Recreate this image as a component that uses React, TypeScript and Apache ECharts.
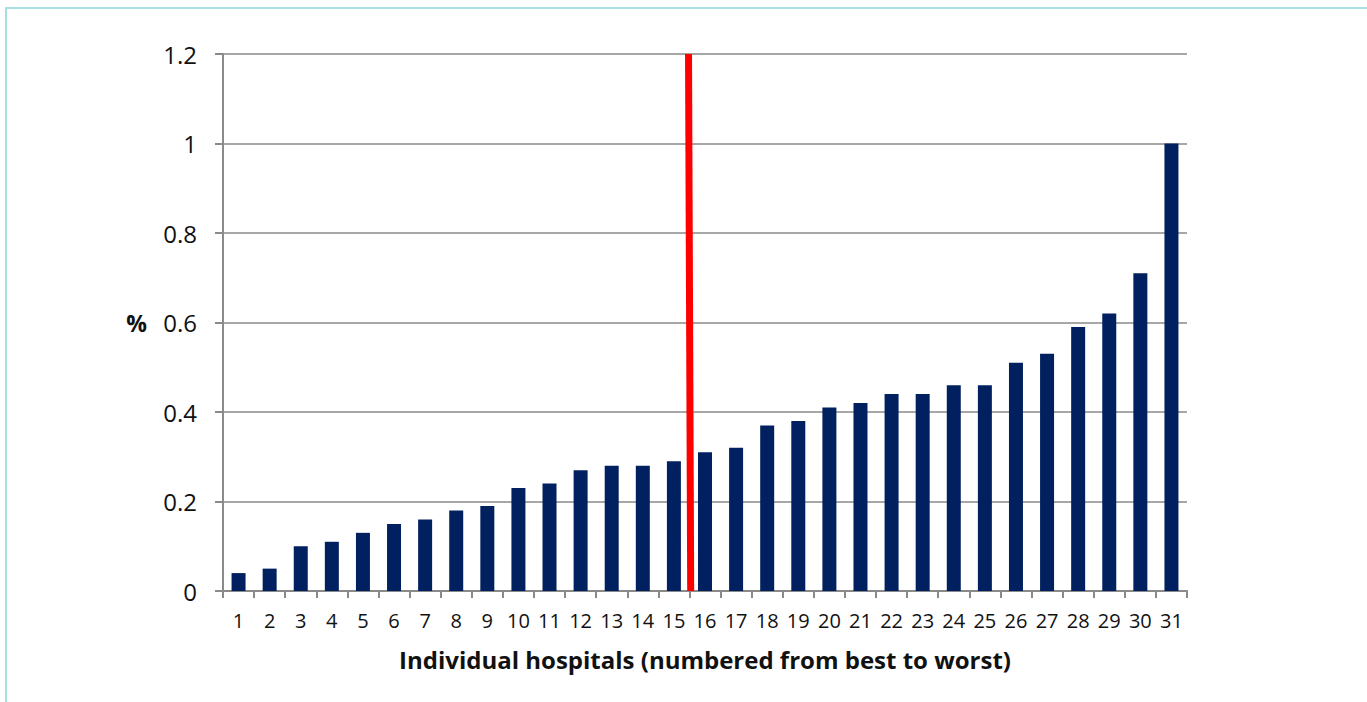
import React, { useEffect, useRef } from "react";
import * as echarts from "echarts";

const hospitals = Array.from({ length: 31 }, (_, i) => String(i + 1));
const rates = [
  0.04, 0.05, 0.1, 0.11, 0.13, 0.15, 0.16, 0.18, 0.19, 0.23, 0.24, 0.27, 0.28, 0.28, 0.29,
  0.31, 0.32, 0.37, 0.38, 0.41, 0.42, 0.44, 0.44, 0.46, 0.46, 0.51, 0.53, 0.59, 0.62, 0.71, 1.0,
];
// median divider line (position on a 0..31 scale, value)
const medianLine = [
  [14.97, 1.2],
  [15.04, 0],
];
const yTicks = { min: 0, max: 1.2, interval: 0.2 };

const FONT = "'Open Sans', Lato, sans-serif";
const GRAY = "#8a8a8a";

export default function App() {
  const ref = useRef<HTMLDivElement>(null);
  useEffect(() => {
    if (!ref.current) return;
    const chart = echarts.init(ref.current, null, { renderer: "svg" });
    chart.setOption({
      animation: false,
      backgroundColor: "#ffffff",
      grid: { left: 223, right: 180, top: 54, bottom: 111, containLabel: false },
      graphic: [
        {
          type: "polyline",
          shape: { points: [[6, 702], [6, 8], [1367, 8]] },
          style: { stroke: "#a6dfe0", lineWidth: 2, fill: "none" },
          silent: true,
        },
      ],
      xAxis: [
        {
          type: "category",
          data: hospitals,
          boundaryGap: true,
          axisLine: { show: true, lineStyle: { color: GRAY, width: 2 } },
          axisTick: { show: true, length: 7, alignWithLabel: false, lineStyle: { color: GRAY, width: 2 } },
          axisLabel: { color: "#111", fontFamily: FONT, fontSize: 20, margin: 19 },
          name: "Individual hospitals (numbered from best to worst)",
          nameLocation: "middle",
          nameGap: 56,
          nameTextStyle: { color: "#111", fontFamily: FONT, fontSize: 24, fontWeight: "bold" },
          splitLine: { show: false },
        },
        {
          type: "value",
          min: 0,
          max: 31,
          show: false,
        },
      ],
      yAxis: {
        type: "value",
        min: yTicks.min,
        max: yTicks.max,
        interval: yTicks.interval,
        axisLine: { show: true, lineStyle: { color: GRAY, width: 2 } },
        axisTick: { show: true, length: 8, lineStyle: { color: GRAY, width: 2 } },
        axisLabel: {
          color: "#111",
          fontFamily: FONT,
          fontSize: 24,
          margin: 26,
          formatter: (v: number) => String(Math.round(v * 10) / 10),
        },
        splitLine: { show: true, lineStyle: { color: GRAY, width: 1.5 } },
        name: "%",
        nameLocation: "middle",
        nameRotate: 0,
        nameGap: 76,
        nameTextStyle: { color: "#111", fontFamily: FONT, fontSize: 23, fontWeight: "bold" },
      },
      series: [
        {
          type: "bar",
          data: rates,
          barWidth: "45%",
          itemStyle: { color: "#002060" },
          xAxisIndex: 0,
        },
        {
          type: "line",
          xAxisIndex: 1,
          data: medianLine,
          symbol: "none",
          lineStyle: { color: "#ff0000", width: 7 },
          z: 5,
        },
      ],
    });
    return () => chart.dispose();
  }, []);
  return (
    <div
      ref={ref}
      style={{ position: "absolute", left: 0, top: 0, width: 1367, height: 702 }}
    />
  );
}
